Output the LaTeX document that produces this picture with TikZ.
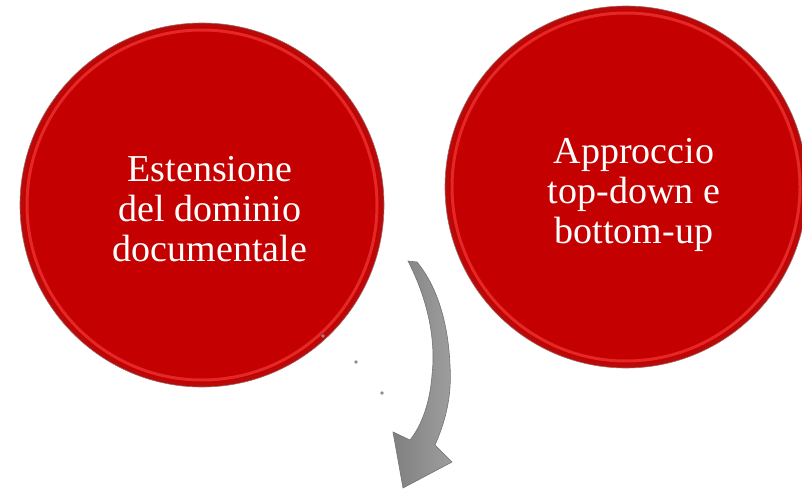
\documentclass[tikz,border=0pt]{standalone}
\usepackage{fontspec}
\setmainfont{Liberation Serif}
\usepackage{tikz}
\definecolor{discred}{RGB}{196,0,0}
\definecolor{rimred}{RGB}{228,40,40}
\definecolor{edgered}{RGB}{185,10,10}

\begin{document}
\begin{tikzpicture}[x=1pt,y=-1pt,
  disc/.style={circle,fill=edgered,draw=red!40!black!60,line width=0.6pt,inner sep=0pt},
  rim/.style={draw=rimred,line width=3pt},
  disctext/.style={text=white,align=center,font=\fontsize{38}{40}\selectfont}]
\clip (0,0) rectangle (802,492);
\useasboundingbox (0,0) rectangle (802,492);

% left disc
\node [disc,minimum size=364pt] (dl) at (202,205) {};
\fill [discred] (dl.center) circle (178);
\draw [rim] (dl.center) circle (175);
\fill [discred] (dl.center) circle (172);
\node [disctext] (tl) at (210,209) {Estensione\\del dominio\\documentale};

% right disc
\node [disc,minimum size=362pt] (dr) at (626,187) {};
\fill [discred] (dr.center) circle (177);
\draw [rim] (dr.center) circle (174);
\fill [discred] (dr.center) circle (171);
\node [disctext] (tr) at (634,195) {Approccio\\top-down e\\bottom-up};

% curved arrow
\coordinate (atop) at (408,261);
\coordinate (atip) at (403,488);
\path [left color=black!50,right color=black!38,draw=black!55,line width=0.6pt]
  (atop) .. controls (428,300) and (436,340) .. (432,375)
  .. controls (430,402) and (422,425) .. (410,440)
  -- (393,432) -- (atip) -- (452,462) -- (435,445)
  .. controls (446,420) and (452,395) .. (450,365)
  .. controls (448,320) and (436,285) .. (417,262) -- cycle;

% stray dots
\fill [black!45] (323,336) circle (1.8);
\fill [black!45] (356,362) circle (1.8);
\fill [black!45] (382,393) circle (1.8);
\end{tikzpicture}
\end{document}
